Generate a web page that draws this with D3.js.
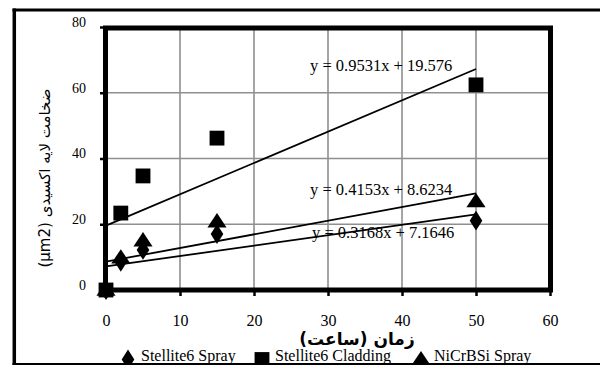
<!DOCTYPE html>
<html><head><meta charset="utf-8">
<script src="https://cdn.jsdelivr.net/npm/d3@7"></script>
<style>html,body{margin:0;padding:0;background:#fff;}svg{display:block;}
.serif{font-family:'Liberation Serif','Times New Roman',serif;}
</style>
</head><body>
<svg id="c" width="600" height="365"></svg>
<script>
const hours = [0, 2, 5, 15, 50];
const stelliteSpray = [0, 8.6, 12.2, 17, 21.1];
const stelliteCladding = [0, 23.4, 34.7, 46.2, 62.4];
const nicrbsiSpray = [0, 9.8, 15, 20.8, 26.9];
const seriesNames = ["Stellite6 Spray", "Stellite6 Cladding", "NiCrBSi Spray"];
const trendSlope = [0.3168, 0.9531, 0.4153];
const trendIntercept = [7.1646, 19.576, 8.6234];
const trendLabels = ["y = 0.3168x + 7.1646", "y = 0.9531x + 19.576", "y = 0.4153x + 8.6234"];
const xTicks = [0, 10, 20, 30, 40, 50, 60];
const yTicks = [0, 20, 40, 60, 80];
const xTitle = "زمان (ساعت)";
const yTitle = "ضخامت لایه اکسیدی (µm2)";

const svg = d3.select("#c");
const x = d3.scaleLinear().domain([0, 60]).range([106, 550]);
const y = d3.scaleLinear().domain([0, 80]).range([290, 27]);

svg.append("defs").append("clipPath").attr("id", "clip")
  .append("rect").attr("x", 0).attr("y", 0).attr("width", 600).attr("height", 363);
const g = svg.append("g").attr("clip-path", "url(#clip)");

// grid
g.append("g").selectAll("line").data(xTicks.slice(1, -1)).join("line")
  .attr("x1", d => x(d)).attr("x2", d => x(d)).attr("y1", y(80)).attr("y2", y(0))
  .attr("stroke", "#8f8f8f").attr("stroke-width", 1.6);
g.append("g").selectAll("line").data(yTicks.slice(1, -1)).join("line")
  .attr("y1", d => y(d)).attr("y2", d => y(d)).attr("x1", x(0)).attr("x2", x(60))
  .attr("stroke", "#8f8f8f").attr("stroke-width", 1.6);

// axes via d3
const xAxis = g.append("g").attr("transform", `translate(0,${y(0)})`)
  .call(d3.axisBottom(x).tickValues(xTicks).tickSize(6).tickPadding(19).tickFormat(d3.format("d")))
  .attr("font-family", null).attr("font-size", null).attr("class", "serif");
xAxis.select(".domain").remove();
xAxis.selectAll(".tick line").attr("stroke", "#000").attr("stroke-width", 2.5);
xAxis.selectAll(".tick text").attr("class", "serif").style("font-size", "16px").attr("fill", "#000");

const yAxis = g.append("g").attr("transform", `translate(${x(0)},0)`)
  .call(d3.axisLeft(y).tickValues(yTicks).tickSize(6).tickPadding(14).tickFormat(d3.format("d")))
  .attr("font-family", null).attr("font-size", null).attr("class", "serif");
yAxis.select(".domain").remove();
yAxis.selectAll(".tick line").attr("stroke", "#000").attr("stroke-width", 2.5);
yAxis.selectAll(".tick text").attr("class", "serif").style("font-size", "14px").attr("fill", "#000")
  .attr("dy", "-0.05em");

// plot frame
g.append("rect").attr("x", x(0) - 0.5).attr("y", y(80) + 1).attr("width", x(60) - x(0) + 1).attr("height", y(0) - y(80) - 1)
  .attr("fill", "none").attr("stroke", "#000").attr("stroke-width", 5);

// trendlines
trendSlope.forEach((m, i) => {
  g.append("line").attr("x1", x(0)).attr("y1", y(trendIntercept[i]))
    .attr("x2", x(50)).attr("y2", y(m * 50 + trendIntercept[i]))
    .attr("stroke", "#000").attr("stroke-width", 1.8);
});

// markers
const shapes = [d3.symbolDiamond, d3.symbolSquare, d3.symbolTriangle];
const sizes = [115, 220, 120];
const allSeries = [stelliteSpray, stelliteCladding, nicrbsiSpray];
function marker(sel, i, cx, cy) {
  const t = i === 0 ? `translate(${cx},${cy}) scale(1.1,1)` : i === 2 ? `translate(${cx},${cy + 1}) scale(1.15,1)` : `translate(${cx},${cy})`;
  sel.append("path").attr("d", d3.symbol().type(shapes[i]).size(sizes[i])()).attr("transform", t).attr("fill", "#000");
}
allSeries.forEach((vals, i) => {
  const mg = g.append("g");
  vals.forEach((v, j) => marker(mg, i, x(hours[j]), y(v)));
});

// trend labels
const labelPos = [[312, 238], [310, 70.5], [310, 195]];
trendLabels.forEach((t, i) => {
  g.append("text").attr("class", "serif").attr("x", labelPos[i][0]).attr("y", labelPos[i][1]).text(t)
    .style("font-size", "16.5px").attr("fill", "#000");
});

// legend
const legX = [128, 262, 421];
seriesNames.forEach((n, i) => {
  marker(g, i, legX[i], 359.5);
  g.append("text").attr("class", "serif").attr("x", legX[i] + 13).attr("y", 361).text(n)
    .style("font-size", "16px").attr("fill", "#000");
});

// axis titles
g.append("text").attr("x", 357).attr("y", 345).attr("text-anchor", "middle").attr("direction", "rtl")
  .attr("font-family", "'DejaVu Sans',sans-serif").attr("font-weight", "bold").attr("font-size", 17).text(xTitle);
g.append("text").attr("transform", "translate(50,178) rotate(-90)").attr("text-anchor", "middle").attr("direction", "rtl")
  .attr("font-family", "'DejaVu Sans',sans-serif").attr("font-size", 15).text(yTitle);

// outer frame
svg.append("line").attr("x1", 14.3).attr("x2", 14.3).attr("y1", 8.5).attr("y2", 365).attr("stroke", "#000").attr("stroke-width", 3.5);
svg.append("line").attr("x1", 12.5).attr("x2", 600).attr("y1", 10).attr("y2", 10).attr("stroke", "#000").attr("stroke-width", 3);
svg.append("line").attr("x1", 12.5).attr("x2", 600).attr("y1", 364).attr("y2", 364).attr("stroke", "#000").attr("stroke-width", 2.2);
</script>
</body></html>
